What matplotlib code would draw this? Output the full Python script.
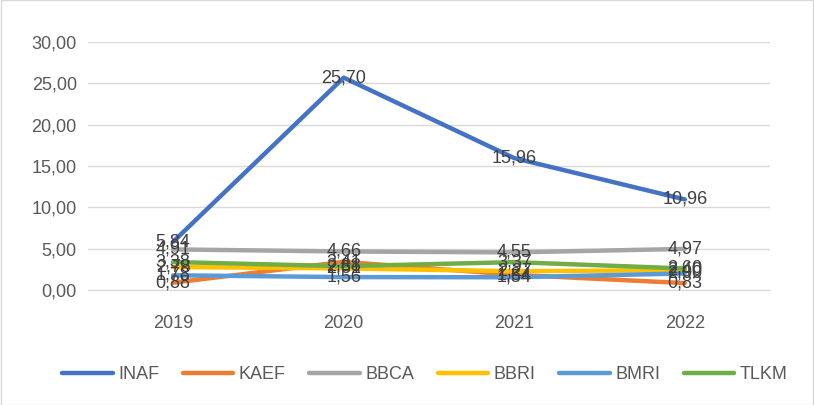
import matplotlib
matplotlib.use('Agg')
import matplotlib.pyplot as plt

years = ['2019', '2020', '2021', '2022']
inaf = [5.84, 25.70, 15.96, 10.96]
kaef = [0.88, 3.41, 1.84, 0.83]
bbca = [4.91, 4.66, 4.55, 4.97]
bbri = [2.78, 2.61, 2.27, 2.40]
bmri = [1.78, 1.56, 1.54, 2.00]
tlkm = [3.38, 2.88, 3.37, 2.60]

series = [('INAF', inaf, '#4472C4'), ('KAEF', kaef, '#ED7D31'),
          ('BBCA', bbca, '#A5A5A5'), ('BBRI', bbri, '#FFC000'),
          ('BMRI', bmri, '#5B9BD5'), ('TLKM', tlkm, '#70AD47')]

plt.rcParams['font.family'] = ['Liberation Sans', 'DejaVu Sans']

fig = plt.figure(figsize=(8.14, 4.05), dpi=100)
ax = fig.add_axes([0.108, 0.284, 0.838, 0.612])
x = range(len(years))
for name, vals, col in series:
    ax.plot(x, vals, color=col, lw=3.2, label=name, solid_capstyle='round')
for name, vals, col in series:
    for xi, v in zip(x, vals):
        ax.text(xi, v, f'{v:.2f}'.replace('.', ','), ha='center', va='center',
                fontsize=13, color='#404040')

ax.set_xlim(-0.5, 3.5)
ax.set_ylim(0, 30)
ax.set_yticks(range(0, 31, 5))
ax.set_yticklabels([f'{t:.2f}'.replace('.', ',') for t in range(0, 31, 5)])
ax.set_xticks(list(x))
ax.set_xticklabels(years)
ax.tick_params(axis='x', length=0, labelsize=13, colors='#595959', pad=18)
ax.tick_params(axis='y', length=0, labelsize=13, colors='#595959', pad=8)
ax.grid(axis='y', color='#D9D9D9', lw=1)
ax.set_axisbelow(True)
for s in ['top', 'right', 'left']:
    ax.spines[s].set_visible(False)
ax.spines['bottom'].set_color('#D9D9D9')

fig.legend(loc='center', bbox_to_anchor=(0.522, 0.075), ncol=6, frameon=False,
           fontsize=13, labelcolor='#595959', handlelength=2.8, handletextpad=0.3,
           columnspacing=1.3)
fig.patches.append(plt.Rectangle((0.001, 0.001), 0.998, 0.998, transform=fig.transFigure,
                                 fill=False, edgecolor='#D9D9D9', lw=1))
fig.savefig('out.png', dpi=100)
